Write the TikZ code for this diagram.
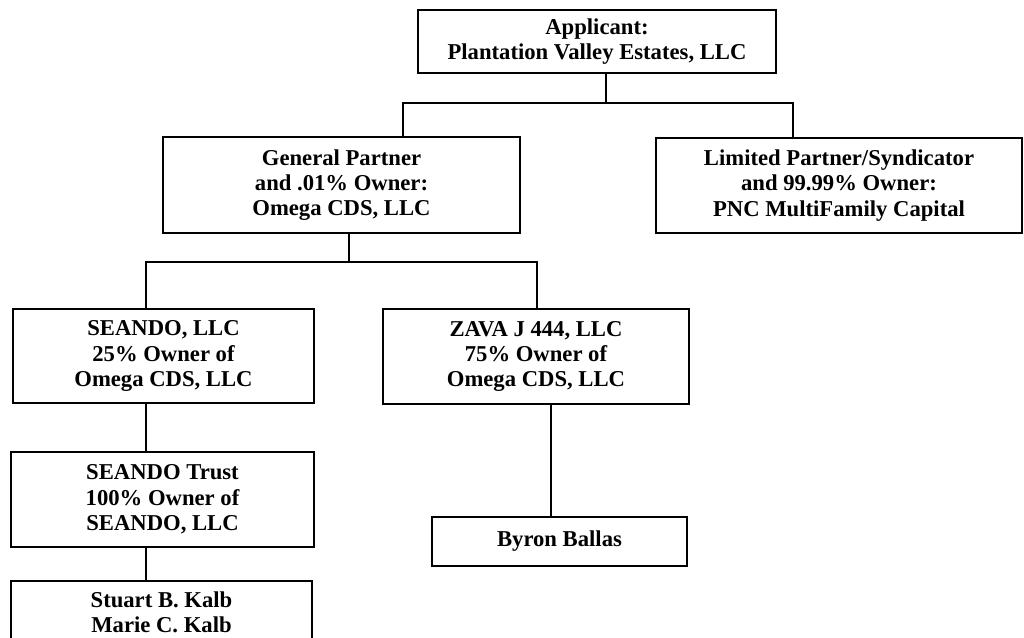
\documentclass[tikz,border=0pt]{standalone}
\usepackage{fontspec}
\setmainfont{Liberation Serif}
\usetikzlibrary{positioning}
\usetikzlibrary{calc}

\begin{document}
\begin{tikzpicture}[x=0.75pt, y=-0.75pt,
  owner/.style={draw, rectangle, line width=1.6pt, align=center, inner sep=0pt,
    font=\bfseries\fontsize{17}{19}\selectfont},
  link/.style={line width=1.4pt}]

  \useasboundingbox (0,0) rectangle (1024,638);

  % ==== Top: applicant and partners ====

  \node[owner, minimum width=268.5pt, minimum height=47.25pt] (app) at (597,41.5)
    {Applicant:\\Plantation Valley Estates, LLC};
  \node[owner, minimum width=267.75pt, minimum height=72pt] (gp) at (341.5,185)
    {General Partner\\and .01\% Owner:\\Omega CDS, LLC};
  \node[owner, minimum width=274.5pt, minimum height=71.25pt] (lp) at (839,185.5)
    {Limited Partner/Syndicator\\and 99.99\% Owner:\\PNC MultiFamily Capital};

  % ==== Middle: owners of Omega CDS ====

  \node[owner, minimum width=225.75pt, minimum height=70.5pt] (sea) at (163.5,356)
    {SEANDO, LLC\\25\% Owner of\\Omega CDS, LLC};
  \node[owner, minimum width=229.5pt, minimum height=71.25pt] (zava) at (536,356.5)
    {ZAVA J 444, LLC\\75\% Owner of\\Omega CDS, LLC};

  % ==== Bottom: trust and persons ====

  \node[owner, minimum width=227.25pt, minimum height=71.25pt] (trust) at (162.5,499.5)
    {SEANDO Trust\\100\% Owner of\\SEANDO, LLC};
  \node[owner, minimum width=191.25pt, minimum height=36.75pt] (byron) at (559.5,541.5)
    {Byron Ballas};
  \node[owner, minimum width=225.75pt, minimum height=46.5pt] (stuart) at (161.5,612)
    {Stuart B. Kalb\\Marie C. Kalb};

  % Branch columns and bus lines
  \coordinate (busA) at (606,103);
  \coordinate (busB) at (349,262);
  \coordinate (gpx) at (403,0);
  \coordinate (lpx) at (793,0);
  \coordinate (seax) at (146,0);
  \coordinate (zavax) at (537,0);
  \coordinate (byx) at (551,0);

  % Connectors
  \draw[link] (app.south -| busA) -- (busA);
  \draw[link] (gp.north -| gpx) |- (busA) -| (lp.north -| lpx);
  \draw[link] (gp.south -| busB) -- (busB);
  \draw[link] (sea.north -| seax) |- (busB) -| (zava.north -| zavax);
  \draw[link] (sea.south -| seax) -- (trust.north -| seax);
  \draw[link] (trust.south -| seax) -- (stuart.north -| seax);
  \draw[link] (zava.south -| byx) -- (byron.north -| byx);
\end{tikzpicture}
\end{document}
